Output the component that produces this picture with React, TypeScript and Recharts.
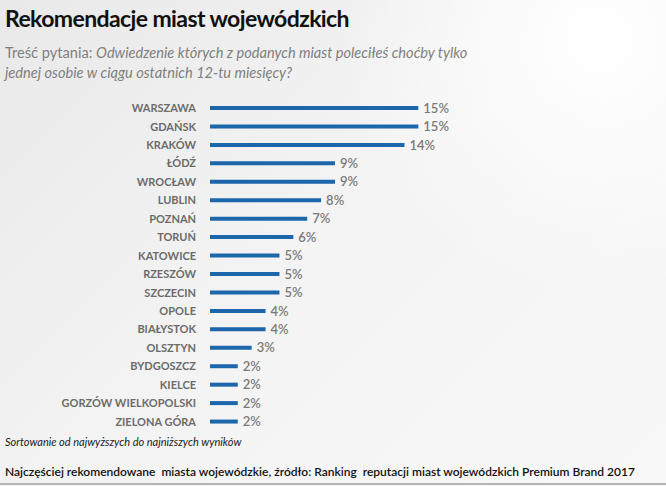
import React from 'react';
import { BarChart, Bar, XAxis, YAxis, LabelList } from 'recharts';

const cities = [
  'WARSZAWA', 'GDAŃSK', 'KRAKÓW', 'ŁÓDŹ', 'WROCŁAW', 'LUBLIN', 'POZNAŃ', 'TORUŃ', 'KATOWICE',
  'RZESZÓW', 'SZCZECIN', 'OPOLE', 'BIAŁYSTOK', 'OLSZTYN', 'BYDGOSZCZ', 'KIELCE',
  'GORZÓW WIELKOPOLSKI', 'ZIELONA GÓRA',
];
const shares = [15, 15, 14, 9, 9, 8, 7, 6, 5, 5, 5, 4, 4, 3, 2, 2, 2, 2];

const title = 'Rekomendacje miast wojewódzkich';
const questionLead = 'Treść pytania: ';
const questionText = 'Odwiedzenie których z podanych miast poleciłeś choćby tylko';
const questionText2 = 'jednej osobie w ciągu ostatnich 12-tu miesięcy?';
const sortNote = 'Sortowanie od najwyższych do najniższych wyników';
const sourceNote = 'Najczęściej rekomendowane  miasta wojewódzkie, źródło: Ranking  reputacji miast wojewódzkich Premium Brand 2017';

const data = cities.map((city, i) => ({ city, share: shares[i] }));

const font = 'Lato, "Open Sans", sans-serif';

export default function App() {
  return (
    <div
      style={{
        position: 'fixed',
        left: 0,
        top: 0,
        width: 666,
        height: 486,
        overflow: 'hidden',
        fontFamily: font,
        background:
          'radial-gradient(circle at 90% 8%, #ffffff 0%, rgba(255,255,255,0) 35%), linear-gradient(135deg, #e9e9e9 0%, #f3f3f3 45%, #f8f8f8 100%)',
      }}
    >
      <div style={{ position: 'absolute', left: 5, top: 4, fontSize: 23, letterSpacing: -0.6, fontWeight: 700, color: '#111', whiteSpace: 'nowrap' }}>
        {title}
      </div>
      <div style={{ position: 'absolute', left: 5, top: 43, fontSize: 14.6, lineHeight: '20px', color: '#7f7f7f', whiteSpace: 'nowrap' }}>
        {questionLead}
        <i>{questionText}</i>
        <br />
        <i>{questionText2}</i>
      </div>

      <div style={{ position: 'absolute', left: 0, top: 0 }}>
        <BarChart
          width={666}
          height={440}
          layout="vertical"
          data={data}
          margin={{ top: 99, right: 206, left: 0, bottom: 9 }}
        >
          <XAxis type="number" domain={[0, 18]} hide />
          <YAxis
            type="category"
            dataKey="city"
            width={210}
            axisLine={false}
            tickLine={false}
            tickSize={0}
            tickMargin={14}
            interval={0}
            tick={{ fontSize: 11, fontWeight: 700, fill: '#6b6b6b', fontFamily: font }}
          />
          <Bar dataKey="share" fill="#1c66ab" barSize={4} isAnimationActive={false}>
            <LabelList
              dataKey="share"
              position="right"
              offset={5}
              formatter={(v: number) => `${v}%`}
              style={{ fontSize: 13, fill: '#7a7a7a', fontFamily: font, fontWeight: 600 }}
            />
          </Bar>
        </BarChart>
      </div>

      <div style={{ position: 'absolute', left: 5, top: 435, fontSize: 11, fontStyle: 'italic', color: '#222', whiteSpace: 'nowrap' }}>
        {sortNote}
      </div>
      <div style={{ position: 'absolute', left: 5, top: 464, fontSize: 12, fontWeight: 600, color: '#111', whiteSpace: 'pre' }}>
        {sourceNote}
      </div>
      <div style={{ position: 'absolute', left: 0, top: 483, width: 666, height: 2, background: '#b5b5b5' }} />
    </div>
  );
}
